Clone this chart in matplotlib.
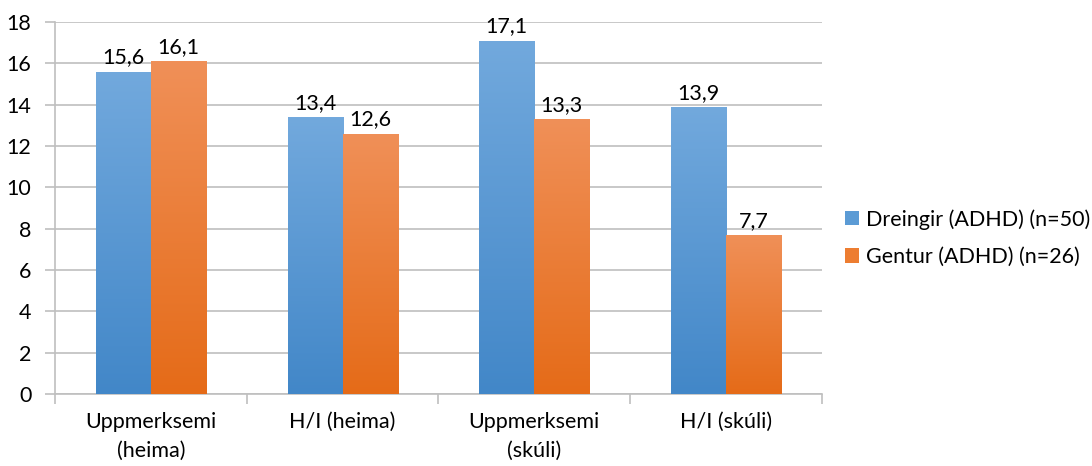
import matplotlib
matplotlib.use("Agg")
import matplotlib.pyplot as plt
import numpy as np
from matplotlib.colors import LinearSegmentedColormap
from matplotlib.patches import Rectangle

plt.rcParams["font.family"] = ["Lato", "DejaVu Sans"]

categories = ["Uppmerksemi\n(heima)", "H/I (heima)", "Uppmerksemi\n(skúli)", "H/I (skúli)"]
boys = [15.6, 13.4, 17.1, 13.9]
girls = [16.1, 12.6, 13.3, 7.7]
series_labels = ["Dreingir (ADHD) (n=50)", "Gentur (ADHD) (n=26)"]
yticks = [0, 2, 4, 6, 8, 10, 12, 14, 16, 18]

BLUE_TOP, BLUE_BOT = "#72A9DD", "#4287C8"
ORANGE_TOP, ORANGE_BOT = "#F09058", "#E56B18"
GRID = "#BFBFBF"
BAR_W = 0.287
FS = 15.5


def gradient_fill(ax, bars, top, bottom):
    cmap = LinearSegmentedColormap.from_list("g", [bottom, top])
    grad = np.linspace(0, 1, 256).reshape(-1, 1)
    for bar in bars:
        x0, y0 = bar.get_x(), bar.get_y()
        w, h = bar.get_width(), bar.get_height()
        im = ax.imshow(grad, cmap=cmap, aspect="auto", origin="lower",
                       extent=[x0, x0 + w, y0, y0 + h], zorder=bar.get_zorder())
        im.set_clip_path(bar)
        bar.set_facecolor("none")


fig = plt.figure(figsize=(10.92, 4.66), dpi=100)
ax = fig.add_axes([0.0504, 0.1545, 0.7023, 0.7983])

x = np.arange(len(categories))
b1 = ax.bar(x - BAR_W / 2, boys, BAR_W, color=BLUE_BOT, linewidth=0, zorder=3)
b2 = ax.bar(x + BAR_W / 2, girls, BAR_W, color=ORANGE_BOT, linewidth=0, zorder=3)
gradient_fill(ax, b1, BLUE_TOP, BLUE_BOT)
gradient_fill(ax, b2, ORANGE_TOP, ORANGE_BOT)

for bars, vals in ((b1, boys), (b2, girls)):
    for bar, v in zip(bars, vals):
        ax.text(bar.get_x() + bar.get_width() / 2, v + 0.2, f"{v:.1f}".replace(".", ","),
                ha="center", va="bottom", fontsize=FS, color="#000000")

ax.set_xlim(-0.5, len(categories) - 0.5)
ax.set_ylim(0, 18)
ax.set_yticks(yticks)
ax.set_yticklabels([str(t) for t in yticks], fontsize=FS)
ax.set_xticks(x)
ax.set_xticklabels(categories, fontsize=FS, linespacing=1.55)
ax.tick_params(axis="x", length=0, pad=13)
ax.set_xticks(np.arange(len(categories) + 1) - 0.5, minor=True)
ax.tick_params(axis="x", which="minor", length=7, color=GRID, width=1.2)
ax.tick_params(axis="y", length=7, color=GRID, width=1.2, pad=10)
ax.grid(axis="y", color=GRID, linewidth=1.2, zorder=0)
ax.set_axisbelow(True)
for side in ("top", "right"):
    ax.spines[side].set_visible(False)
for side in ("left", "bottom"):
    ax.spines[side].set_color(GRID)
    ax.spines[side].set_linewidth(1.2)

handles = [Rectangle((0, 0), 1, 1, facecolor="#5B9BD5"),
           Rectangle((0, 0), 1, 1, facecolor="#ED7D31")]
fig.legend(handles, series_labels, loc="center left", bbox_to_anchor=(0.756, 0.489),
           frameon=False, fontsize=FS, handlelength=0.65, handleheight=0.65,
           handletextpad=0.35, labelspacing=0.8)

fig.savefig("out.png", dpi=100)
